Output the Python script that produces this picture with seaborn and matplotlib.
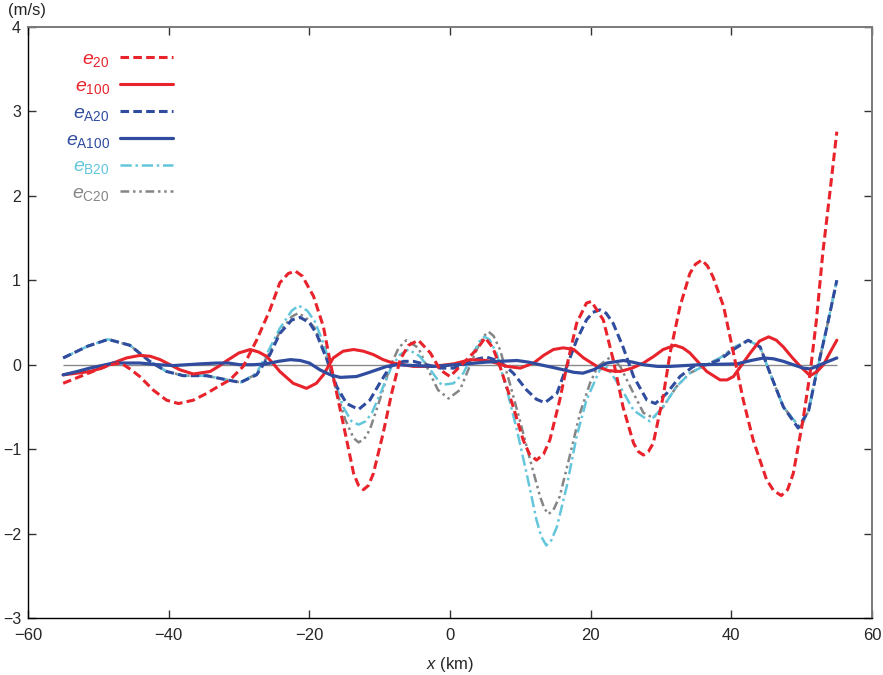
"""
Error profiles e20 / e100 / eA / eB / eC along x
"""

import pandas as pd
import matplotlib
matplotlib.use('Agg')
import matplotlib.pyplot as plt
import seaborn as sns
from matplotlib.lines import Line2D

# ---- data (x in km, value in m/s) ----
x_e20 = [-55, -52.6, -50.2, -48.3, -46.8, -45.5, -44.1, -42.2, -40.3, -38.6, -36.5, -34.6, -33.0,
         -31.3, -29.4, -27.5, -25.6, -24.2, -23.0, -22.0, -21.0, -19.4, -18.0, -17.1, -16.1, -14.9,
         -13.7, -13.0, -12.3, -11.6, -10.9, -9.5, -8.3, -7.1, -5.9, -4.5, -2.8, -1.4, 0.0, 1.9, 3.8,
         5.0, 6.1, 7.1, 9.0, 10.4, 11.3, 12.3, 13.3, 14.2, 15.6, 16.6, 18.0, 19.4, 20.1, 21.8, 23.2,
         24.6, 26.1, 26.8, 27.5, 28.2, 28.9, 30.3, 31.3, 32.7, 34.1, 34.9, 35.8, 36.6, 37.4, 38.9,
         40.3, 41.7, 43.1, 45.0, 46.0, 47.1, 48.0, 48.8, 50.2, 51.2, 52.1, 53.0, 54.0, 55.0]
e20 = [-0.22, -0.14, -0.06, 0.0, 0.02, -0.05, -0.14, -0.30, -0.42, -0.46, -0.42, -0.34, -0.26,
       -0.18, -0.02, 0.29, 0.65, 0.97, 1.08, 1.11, 1.05, 0.81, 0.45, 0.06, -0.34, -0.81,
       -1.29, -1.43, -1.48, -1.43, -1.29, -0.81, -0.34, 0.06, 0.23, 0.29, 0.14, -0.06, -0.14, 0.02, 0.18,
       0.32, 0.20, -0.02, -0.50, -0.89, -1.06, -1.13, -1.06, -0.89, -0.42, -0.02, 0.49, 0.73, 0.75, 0.53, 0.06,
       -0.50, -0.93, -1.03, -1.07, -1.03, -0.93, -0.38, 0.14, 0.69, 1.08, 1.19, 1.24, 1.17, 1.04, 0.69,
       0.14, -0.42, -0.89, -1.36, -1.49, -1.55, -1.48, -1.29, -0.65, -0.10, 0.53, 1.32, 2.03, 2.76]

x_e100 = [-55, -53, -51.2, -49.5, -47.9, -46, -44.1, -42.6, -41.2, -39.8, -38.4, -36.5, -34.1,
          -32.9, -31.7, -30, -28.4, -27.2, -26.1, -25.1, -24.2, -22.3, -20.4, -19.0, -18.0, -16.6,
          -15.2, -13.7, -12.3, -10.9, -9.5, -8.1, -5.2, -2.4, 0.5, 2.9, 5.2, 6.6, 8.1, 10.0, 11.9,
          13.3, 14.7, 16.1, 17.6, 19.0, 20.9, 22.5, 24.2, 25.9, 27.5, 29.0, 30.3, 32.0, 33.1, 34.1,
          35.3, 36.5, 38.4, 39.4, 40.3, 41.5, 42.7, 44.0, 45.3, 46.4, 47.4, 48.6, 49.8, 51.2, 52.2,
          53.1, 54.0, 55.0]
e100 = [-0.12, -0.10, -0.08, -0.04, 0.02, 0.08, 0.11, 0.10, 0.06, 0.0, -0.06, -0.11, -0.08,
        -0.02, 0.05, 0.14, 0.18, 0.15, 0.10, 0.01, -0.08, -0.22, -0.28, -0.22, -0.12, 0.08,
        0.16, 0.18, 0.16, 0.12, 0.06, 0.02, -0.02, -0.02, 0.01, 0.06, 0.05, 0.02, -0.02, -0.04, 0.02,
        0.11, 0.18, 0.20, 0.18, 0.08, -0.02, -0.07, -0.08, -0.04, 0.02, 0.10, 0.18, 0.23, 0.20, 0.14,
        0.03, -0.08, -0.18, -0.18, -0.14, 0.0, 0.14, 0.28, 0.33, 0.29, 0.21, 0.09, -0.02, -0.13, -0.08,
        0.0, 0.14, 0.29]

x_eA20 = [-55, -51.5, -48.6, -45.5, -42.7, -40.3, -37.9, -34.6, -31.7, -29.8, -27.5, -25.6, -24.2,
          -22.5, -21.3, -20.0, -19.0, -17.5, -16.1, -14.7, -13.0, -11.4, -10.0, -8.5, -6.6, -5.2, -3.3,
          -1.4, 0.5, 2.4, 4.0, 5.2, 7.1, 9.0, 10.9, 12.3, 13.5, 15.2, 16.6, 18.0, 19.4, 20.3, 21.3,
          22.2, 23.2, 24.6, 26.1, 28.0, 29.2, 30.8, 32.7, 34.6, 36.5, 38.4, 40.3, 42.4, 44.1, 45.5,
          47.4, 49.5, 51.0, 52.1, 53.6, 55.0]
eA20 = [0.08, 0.22, 0.30, 0.23, 0.04, -0.08, -0.13, -0.13, -0.18, -0.21, -0.12, 0.12, 0.37,
        0.53, 0.56, 0.50, 0.37, 0.06, -0.26, -0.46, -0.53, -0.42, -0.22, -0.02, 0.04, 0.04, 0.0,
        -0.04, -0.04, 0.02, 0.07, 0.09, 0.04, -0.10, -0.30, -0.41, -0.45, -0.34, -0.02, 0.29, 0.53, 0.62, 0.65,
        0.61, 0.49, 0.21, -0.14, -0.42, -0.46, -0.34, -0.14, -0.02, 0.0, 0.06, 0.18, 0.29, 0.21, -0.10,
        -0.50, -0.75, -0.54, -0.10, 0.45, 1.0]

x_eA100 = [-55, -53, -51.2, -49.5, -47.9, -44.1, -41.5, -39.3, -35.5, -33.2, -31.5, -29.9, -28.0,
           -26.1, -24.4, -22.7, -21.3, -20.0, -18.5, -17.0, -15.6, -13.3, -11.8, -10.4, -9.0, -7.6,
           -5.0, -2.4, 2.4, 5.0, 7.1, 9.5, 11.2, 12.8, 14.5, 16.1, 17.6, 18.9, 20.4, 22.3, 24.7, 26.0,
           27.5, 29.5, 31.3, 35.5, 40.8, 42.8, 44.6, 46.0, 47.4, 48.8, 50.2, 51.2, 52.1, 53.5, 55.0]
eA100 = [-0.12, -0.08, -0.04, -0.01, 0.02, 0.02, 0.0, -0.01, 0.01, 0.02, 0.02, 0.0, 0.0,
         0.01, 0.04, 0.06, 0.05, 0.02, -0.06, -0.12, -0.15, -0.14, -0.10, -0.06, -0.02, 0.0,
         -0.01, -0.02, 0.01, 0.03, 0.04, 0.05, 0.03, 0.0, -0.03, -0.06, -0.09, -0.10, -0.06, 0.02, 0.05, 0.03,
         0.0, -0.02, -0.02, 0.0, 0.01, 0.05, 0.08, 0.07, 0.04, 0.0, -0.04, -0.05, -0.02, 0.03, 0.08]

x_eB20 = [-55, -51.5, -48.6, -45.5, -42.7, -40.3, -37.9, -34.6, -31.7, -29.8, -27.5, -25.6, -24.2,
          -22.5, -21.5, -20.3, -19.2, -17.8, -16.6, -15.2, -14.0, -13.0, -12.0, -11.1, -9.7, -8.3,
          -7.1, -5.9, -4.3, -2.8, -1.2, 0.5, 1.9, 3.3, 4.3, 4.9, 5.6, 6.6, 8.1, 9.5, 10.9, 12.3, 13.0,
          13.7, 14.4, 15.2, 16.6, 18.0, 19.4, 21.3, 22.3, 24.2, 26.1, 28.4, 30.3, 32.2, 34.1, 36.5,
          38.4, 40.3, 42.4, 44.1, 45.5, 47.4, 49.8, 51.0, 52.1, 53.6, 55.0]
eB20 = [0.08, 0.22, 0.30, 0.23, 0.04, -0.08, -0.13, -0.13, -0.18, -0.21, -0.10, 0.20, 0.43,
        0.64, 0.70, 0.64, 0.51, 0.21, -0.14, -0.50, -0.67, -0.71, -0.67, -0.57, -0.30, -0.02,
        0.12, 0.18, 0.10, -0.06, -0.24, -0.22, -0.10, 0.14, 0.29, 0.33, 0.30, 0.14, -0.30, -0.77, -1.29, -1.84, -2.04,
        -2.14, -2.08, -1.92, -1.44, -0.85, -0.42, -0.06, -0.03, -0.26, -0.54, -0.67, -0.50, -0.26, -0.10, 0.0,
        0.08, 0.20, 0.29, 0.21, -0.10, -0.50, -0.75, -0.54, -0.10, 0.45, 1.0]

x_eC20 = [-55, -51.5, -48.6, -45.5, -42.7, -40.3, -37.9, -34.6, -31.7, -29.8, -27.5, -25.6, -24.2,
          -22.5, -21.6, -20.5, -19.2, -17.8, -16.3, -14.9, -13.7, -13.0, -12.2, -11.4, -10.0, -8.5,
          -7.3, -6.2, -4.5, -3.1, -1.7, -0.2, 1.4, 2.6, 3.8, 4.8, 5.5, 6.2, 7.1, 8.5, 9.9, 11.4, 12.8,
          13.4, 14.0, 14.7, 15.6, 17.0, 18.5, 19.9, 21.0, 22.8, 24.2, 26.1, 27.5, 28.9, 30.3, 32.2,
          34.1, 36.5, 38.4, 40.3, 42.4, 44.1, 45.5, 47.4, 49.8, 51.0, 52.1, 53.6, 55.0]
eC20 = [0.08, 0.22, 0.30, 0.23, 0.04, -0.08, -0.13, -0.13, -0.18, -0.21, -0.11, 0.15, 0.39,
        0.57, 0.61, 0.56, 0.43, 0.14, -0.26, -0.65, -0.87, -0.92, -0.88, -0.77, -0.42, -0.02,
        0.20, 0.29, 0.20, -0.06, -0.30, -0.40, -0.30, -0.06, 0.18, 0.34, 0.39, 0.34, 0.18, -0.22, -0.65, -1.13, -1.56,
        -1.70, -1.77, -1.72, -1.56, -1.09, -0.57, -0.22, -0.02, 0.09, -0.02, -0.34, -0.57, -0.63, -0.50, -0.26,
        -0.10, 0.0, 0.08, 0.20, 0.29, 0.21, -0.10, -0.50, -0.75, -0.54, -0.10, 0.45, 1.0]

labels = [r'$e_{20}$', r'$e_{100}$', r'$e_{\mathrm{A20}}$', r'$e_{\mathrm{A100}}$',
          r'$e_{\mathrm{B20}}$', r'$e_{\mathrm{C20}}$']

RED = '#e8232b'
BLUE = '#2f4c9f'
CYAN = '#63c6db'
GRAY = '#858585'

# (x, y, colour, linestyle, linewidth, zorder)
series = [
    (x_e20, e20, RED, (0, (2.8, 1.4)), 2.2, 6),
    (x_e100, e100, RED, '-', 2.2, 4),
    (x_eA20, eA20, BLUE, (0, (2.8, 1.4)), 2.2, 3),
    (x_eA100, eA100, BLUE, '-', 2.3, 5),
    (x_eB20, eB20, CYAN, (0, (4.5, 1.5, 1.0, 1.5)), 1.8, 2),
    (x_eC20, eC20, GRAY, (0, (3.5, 1.5, 1.0, 1.5, 1.0, 1.5)), 1.8, 1),
]

sns.set_style("ticks")
plt.rcParams['font.family'] = ['Liberation Sans', 'DejaVu Sans']
plt.rcParams['mathtext.fontset'] = 'custom'
plt.rcParams['mathtext.rm'] = 'Liberation Sans'
plt.rcParams['mathtext.it'] = 'Liberation Sans:italic'
plt.rcParams['axes.unicode_minus'] = True

fig = plt.figure(figsize=(8.83, 6.75), dpi=100)
ax = fig.add_axes([28 / 883, 1 - 618 / 675, 844 / 883, 591 / 675])

# zero reference line over the data range
ax.hlines(0, min(x_e20), max(x_e20), color='#8a8a8a', linewidth=1.0, zorder=0)

handles = []
for (xs, ys, color, ls, lw, z), lab in zip(series, labels):
    df = pd.DataFrame({'x': xs, 'v': ys})
    sns.lineplot(data=df, x='x', y='v', ax=ax, color=color, linestyle=ls,
                 linewidth=lw, zorder=z, estimator=None, sort=True)
    handles.append(Line2D([], [], color=color, linestyle=ls, linewidth=lw, label=lab))

ax.set_xlim(-60, 60)
ax.set_ylim(-3, 4)
ax.set_xticks(range(-60, 61, 20))
ax.set_yticks(range(-3, 5))
ax.set_xlabel(r'$x$ (km)', fontsize=12, labelpad=9)
ax.set_ylabel('')

for side in ['left', 'bottom']:
    ax.spines[side].set_color('black')
    ax.spines[side].set_linewidth(1.0)
for side in ['top', 'right']:
    ax.spines[side].set_visible(True)
    ax.spines[side].set_color('#7a7a7a')
    ax.spines[side].set_linewidth(1.4)

ax.tick_params(axis='both', which='both', direction='in', length=6, width=1.0,
               top=True, right=True, labelsize=12, color='#333333')
ax.tick_params(axis='x', pad=7)
ax.tick_params(axis='y', pad=5, labelsize=11.5)

fig.text(27 / 883, 1 - 10 / 675, '(m/s)', ha='center', va='center', fontsize=12)

ax.legend(handles=handles, loc='upper right', bbox_to_anchor=(145 / 844, 0.96),
          frameon=False, markerfirst=False, labelcolor='linecolor', fontsize=14,
          handlelength=2.75, handletextpad=0.5, labelspacing=0.42, borderpad=0,
          borderaxespad=0)

fig.savefig('out.png', dpi=100)
plt.close(fig)
